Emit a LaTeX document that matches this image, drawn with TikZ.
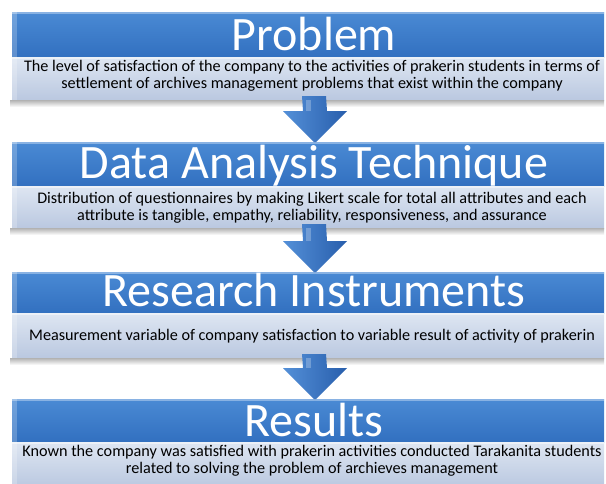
\documentclass[tikz,border=0pt]{standalone}
\usepackage{fontspec}
\setmainfont{Carlito}
\usetikzlibrary{calc}
\definecolor{tTop}{RGB}{74,138,212}
\definecolor{tBot}{RGB}{50,112,192}
\definecolor{dTop}{RGB}{222,230,242}
\definecolor{dBot}{RGB}{186,200,224}
\definecolor{aL}{RGB}{84,144,216}
\definecolor{aR}{RGB}{40,94,172}
\tikzset{
  titleband/.style={anchor=north west, minimum width=592pt, inner sep=0pt, outer sep=0pt, top color=tTop, bottom color=tBot, draw=none},
  descband/.style={anchor=north west, minimum width=592pt, inner sep=0pt, outer sep=0pt, top color=dTop, bottom color=dBot, draw=none},
  titletext/.style={text=white, inner sep=0pt, anchor=base, font=\fontsize{48}{48}\selectfont},
  desctext/.style={text=black, inner sep=0pt, align=center, font=\fontsize{16.2}{17}\selectfont},
  blockarrow/.style={left color=aL, right color=aR, draw=none},
  shadowbar/.style={top color=black!30, bottom color=white, draw=none},
  bevel/.style={fill=white, opacity=0.22, draw=none}
}
\newcommand\blockarr[2]{%
  \coordinate (s) at ([xshift=6pt]#1.south);
  \coordinate (e) at ([xshift=7pt]#2.north);
  \shade[blockarrow] ($(s)+(-12,-4)$) -- ($(e)+(-12,-31)$) -- ($(e)+(-32,-31)$) -- ($(e)+(0,1)$) -- ($(e)+(32,-31)$) -- ($(e)+(12,-31)$) -- ($(s)+(12,-4)$) -- cycle;
  \fill[white,opacity=0.25] ($(s)+(-8,0)$) rectangle ($(e)+(-4,-31)$);
}
\newcommand\boxshadow[1]{%
  \shade[shadowbar] ([xshift=-2pt]#1.south west) rectangle ([yshift=-7pt]#1.south east);
}
\newcommand\boxdeco[2]{%
  \fill[bevel] (#1.north west) rectangle ([xshift=5pt]#1.south west);
  \fill[bevel] (#2.north west) rectangle ([xshift=5pt]#2.south west);
  \fill[white,opacity=0.35] (#1.north west) rectangle ([yshift=-1.5pt]#1.north east);
  \fill[white,opacity=0.45] (#2.north west) rectangle ([yshift=-2pt]#2.north east);
}
\begin{document}
\begin{tikzpicture}[x=1pt,y=-1pt]
\useasboundingbox (0,0) rectangle (606,483);
\fill[white] (0,0) rectangle (606,483);
% bands
\node[titleband, minimum height=45pt] (t1) at (12,12) {};
\node[descband, minimum height=43pt] (d1) at (12,57) {};
\node[titleband, minimum height=44pt] (t2) at (12,142) {};
\node[descband, minimum height=42pt] (d2) at (12,186) {};
\node[titleband, minimum height=41pt] (t3) at (12,272) {};
\node[descband, minimum height=45pt] (d3) at (12,313) {};
\node[titleband, minimum height=43pt] (t4) at (12,399) {};
\node[descband, minimum height=45pt] (d4) at (12,442) {};
% shadows
\boxshadow{d1}
\boxshadow{d2}
\boxshadow{d3}
% arrows
\blockarr{d1}{t2}
\blockarr{d2}{t3}
\blockarr{d3}{t4}
% decorations
\boxdeco{t1}{d1}
\boxdeco{t2}{d2}
\boxdeco{t3}{d3}
\boxdeco{t4}{d4}
% titles
\node[titletext] (p1) at ($(t1.south)+(6,-7)$) {Problem};
\node[titletext] (p2) at ($(t2.south)+(6,-7.5)$) {Data Analysis Technique};
\node[titletext] (p3) at ($(t3.south)+(6,-6.5)$) {Research Instruments};
\node[titletext] (p4) at ($(t4.south)+(6,-6)$) {Results};
% descriptions
\node[desctext] (q1) at (312,76) {The level of satisfaction of the company to the activities of prakerin students in terms of\\ settlement of archives management problems that exist within the company};
\node[desctext] (q2) at (312,207.5) {Distribution of questionnaires by making Likert scale for total all attributes and each\\ attribute is tangible, empathy, reliability, responsiveness, and assurance};
\node[desctext] (q3) at (312,336) {Measurement variable of company satisfaction to variable result of activity of prakerin};
\node[desctext] (q4) at (312,460.5) {Known the company was satisfied with prakerin activities conducted Tarakanita students\\ related to solving the problem of archieves management};
\end{tikzpicture}
\end{document}
